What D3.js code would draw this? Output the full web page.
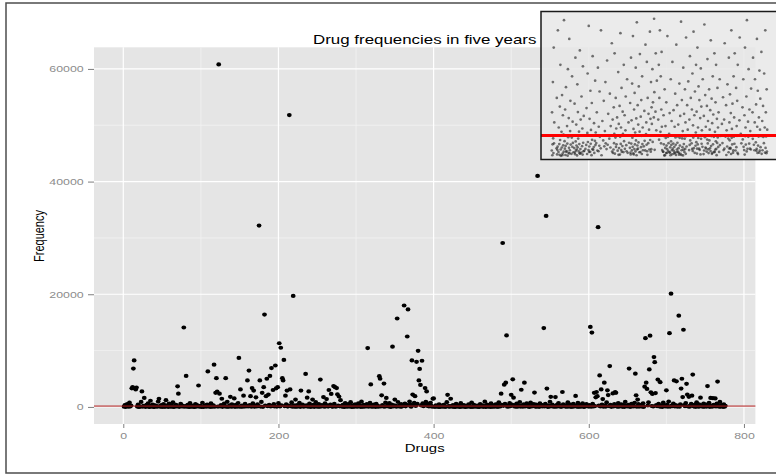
<!DOCTYPE html>
<html>
<head>
<meta charset="utf-8">
<script src="https://cdn.jsdelivr.net/npm/d3@7"></script>
<style>
  html, body { margin: 0; padding: 0; background: #fff; }
  svg { display: block; }
</style>
</head>
<body>
<svg id="chart" width="776" height="474"></svg>
<script>
// Five-year frequency of each drug; position i holds drug i + 1
const frequency = [
  45, 310, 12, 88, 520, 130, 27, 760, 95, 240, 3300, 3500, 6800, 8250, 3300, 3100, 3450, 60, 410, 18,
  50, 72, 880, 2750, 35, 205, 1600, 90, 15, 350, 118, 640, 52, 8, 1100, 175, 66, 430, 12, 24,
  290, 81, 156, 37, 950, 1450, 110, 58, 330, 14, 77, 485, 36, 41, 1200, 215, 93, 9, 610, 138,
  29, 270, 64, 820, 25, 47, 180, 390, 86, 3650, 2350, 22, 135, 560, 71, 245, 98, 14100, 33, 150,
  5500, 62, 370, 31, 19, 690, 108, 44, 225, 80, 52, 11, 505, 67, 312, 128, 3800, 39, 176, 90,
  26, 740, 23, 55, 260, 148, 31, 420, 6300, 75, 198, 17, 630, 99, 40, 285, 7500, 43, 2500, 5100,
  2700, 56, 60800, 2350, 84, 340, 1450, 21, 167, 580, 104, 5100, 48, 910, 35, 73, 265, 1800, 36, 460,
  92, 188, 1500, 13, 375, 119, 54, 700, 8700, 51, 3100, 69, 235, 28, 2000, 112, 530, 83, 170, 4700,
  97, 6450, 310, 1900, 45, 3350, 620, 2900, 40, 210, 1700, 78, 455, 140, 32200, 4700, 60, 880, 2500, 12,
  3500, 16400, 250, 1900, 5000, 115, 2200, 390, 5500, 74, 6900, 180, 3000, 520, 95, 7350, 3300, 55, 3500, 670,
  11300, 85, 10500, 300, 5100, 4700, 8350, 127, 2000, 440, 2900, 66, 215, 51800, 3100, 150, 790, 38, 19700, 260,
  28, 1300, 52, 345, 96, 160, 720, 23, 2900, 135, 410, 70, 198, 88, 5850, 275, 1650, 44, 2750, 590,
  15, 230, 62, 1300, 355, 17, 140, 860, 91, 205, 48, 480, 35, 4850, 76, 315, 160, 1750, 34, 640,
  110, 1400, 290, 57, 3000, 185, 420, 2300, 82, 40, 3700, 540, 3500, 29, 3350, 2250, 240, 1850, 99, 1200,
  150, 64, 375, 30, 18, 690, 93, 255, 46, 510, 134, 71, 840, 25, 195, 18, 330, 55, 445, 87,
  170, 39, 620, 115, 268, 12, 935, 52, 80, 360, 58, 225, 101, 490, 10450, 33, 176, 715, 4000, 34,
  280, 68, 395, 147, 21, 560, 90, 205, 47, 5450, 5000, 74, 2050, 320, 112, 4150, 46, 780, 1600, 159,
  240, 85, 660, 40, 15, 410, 10700, 96, 300, 1300, 190, 52, 15700, 870, 118, 265, 37, 520, 54, 345,
  230, 18000, 610, 105, 380, 12500, 17300, 275, 960, 450, 50, 8250, 2200, 315, 720, 1900, 185, 8000, 530, 9950,
  4700, 6750, 3900, 260, 8200, 640, 120, 410, 3350, 880, 2750, 175, 560, 95, 330, 730, 210, 48, 1450, 1500,
  38, 36, 290, 88, 145, 11, 470, 12, 63, 215, 132, 27, 380, 79, 28, 54, 840, 2150, 140, 41,
  96, 1450, 160, 33, 305, 30, 67, 12, 540, 109, 84, 250, 47, 19, 660, 58, 148, 93, 325, 42,
  25, 71, 210, 28, 440, 136, 85, 14, 780, 34, 52, 360, 99, 143, 37, 225, 61, 28, 16, 510,
  133, 79, 285, 22, 150, 940, 14, 47, 395, 129, 68, 180, 11, 620, 51, 90, 300, 35, 127, 470,
  56, 240, 22, 830, 145, 73, 2350, 360, 29100, 190, 3950, 525, 4300, 12700, 48, 260, 84, 700, 115, 2150,
  410, 4900, 1650, 95, 330, 56, 580, 42, 220, 135, 870, 61, 3050, 290, 29, 455, 4300, 78, 170, 640,
  103, 315, 24, 58, 760, 87, 205, 132, 490, 2550, 58, 395, 50, 41000, 270, 18, 615, 126, 350, 92,
  185, 14000, 71, 540, 33900, 3250, 20, 285, 45, 920, 1800, 137, 430, 66, 210, 59, 1750, 38, 355, 121,
  680, 94, 250, 53, 27, 2650, 470, 115, 190, 60, 325, 41, 810, 76, 145, 405, 22, 235, 28, 560,
  88, 295, 1950, 140, 36, 720, 34, 175, 51, 380, 109, 640, 57, 13, 265, 98, 480, 136, 205, 70,
  310, 14200, 35, 13200, 540, 83, 2500, 146, 1700, 2650, 1900, 31900, 230, 5600, 97, 3100, 415, 1400, 48, 4300,
  260, 58, 790, 2950, 2100, 142, 7250, 360, 14, 185, 2400, 73, 505, 2650, 2500, 128, 33, 690, 59, 240,
  116, 435, 64, 58, 305, 21, 880, 133, 195, 87, 370, 6800, 30, 46, 560, 141, 275, 92, 720, 5900,
  2050, 45, 1300, 480, 68, 215, 147, 390, 29, 640, 20, 3600, 12200, 4300, 3200, 255, 830, 6650, 12650, 2600,
  160, 2300, 95, 8850, 7950, 2450, 345, 122, 4850, 540, 71, 4400, 48, 290, 17, 760, 144, 205, 86, 2950,
  420, 39, 950, 13100, 57, 20100, 245, 140, 610, 4700, 93, 330, 4550, 58, 180, 16200, 52, 475, 3250, 5000,
  1750, 13700, 310, 126, 690, 4100, 2200, 85, 1800, 47, 240, 540, 2000, 5750, 102, 365, 44, 57, 820, 210,
  28, 460, 79, 1650, 142, 275, 31, 600, 44, 190, 405, 68, 3700, 145, 730, 22, 1600, 250, 47, 1550,
  355, 139, 1500, 96, 580, 4500, 205, 31, 880, 63, 310, 143, 26, 470, 38, 190
];
const drugIds = frequency.map((_, i) => i + 1);

// Axis breaks
const xTicks = [0, 200, 400, 600, 800];
const xMinor = [100, 300, 500, 700];
const yTicks = [0, 20000, 40000, 60000];
const yMinor = [10000, 30000, 50000];

// Reference level (red line) and the frequency window shown in the close-up
const referenceLevel = 150;
const closeUpRange = [0, 1000];

const titleText = "Drug frequencies in five years";
const xTitle = "Drugs";
const yTitle = "Frequency";

// ---- layout ----
const panel = { left: 94, right: 755.4, top: 47.3, bottom: 424 };
const inset = { left: 541, right: 778, top: 11.5, bottom: 159.5 };
const stretch = 1.3;  // wide glyphs
const font = "'Liberation Sans', Arial, Helvetica, sans-serif";

const data = drugIds.map((d, i) => ({ drug: d, freq: frequency[i] }));

const svg = d3.select("#chart");

// outer frame background
svg.append("rect")
  .attr("x", 6).attr("y", 3).attr("width", 772).attr("height", 470)
  .attr("fill", "#fff");

// ---- scales with 5% expansion, ggplot style ----
const xExt = d3.extent(drugIds);
const xPad = (xExt[1] - xExt[0]) * 0.05;
const x = d3.scaleLinear()
  .domain([xExt[0] - xPad, xExt[1] + xPad])
  .range([panel.left, panel.right]);

const yExt = d3.extent(frequency);
const yPad = (yExt[1] - yExt[0]) * 0.05;
const y = d3.scaleLinear()
  .domain([yExt[0] - yPad, yExt[1] + yPad])
  .range([panel.bottom, panel.top]);

// ---- panel ----
svg.append("rect")
  .attr("x", panel.left).attr("y", panel.top)
  .attr("width", panel.right - panel.left).attr("height", panel.bottom - panel.top)
  .attr("fill", "#e5e5e5");

const grid = svg.append("g");
grid.selectAll("line.yminor").data(yMinor).join("line")
  .attr("x1", panel.left).attr("x2", panel.right)
  .attr("y1", d => y(d)).attr("y2", d => y(d))
  .attr("stroke", "#f3f3f3").attr("stroke-width", 0.8);
grid.selectAll("line.xminor").data(xMinor).join("line")
  .attr("y1", panel.top).attr("y2", panel.bottom)
  .attr("x1", d => x(d)).attr("x2", d => x(d))
  .attr("stroke", "#f3f3f3").attr("stroke-width", 0.8);
grid.selectAll("line.ymajor").data(yTicks).join("line")
  .attr("x1", panel.left).attr("x2", panel.right)
  .attr("y1", d => y(d)).attr("y2", d => y(d))
  .attr("stroke", "#ffffff").attr("stroke-width", 1.2);
grid.selectAll("line.xmajor").data(xTicks).join("line")
  .attr("y1", panel.top).attr("y2", panel.bottom)
  .attr("x1", d => x(d)).attr("x2", d => x(d))
  .attr("stroke", "#ffffff").attr("stroke-width", 1.2);

// ---- points ----
svg.append("g").selectAll("ellipse").data(data).join("ellipse")
  .attr("cx", d => x(d.drug)).attr("cy", d => y(d.freq))
  .attr("rx", 2.4).attr("ry", 2.1)
  .attr("fill", "#000");

// reference line
svg.append("line")
  .attr("x1", panel.left).attr("x2", panel.right)
  .attr("y1", y(referenceLevel)).attr("y2", y(referenceLevel))
  .attr("stroke", "#b01c1c").attr("stroke-width", 1);

// ---- axes ----
const xAxis = svg.append("g")
  .attr("transform", `translate(0,${panel.bottom})`)
  .call(d3.axisBottom(x).tickValues(xTicks).tickSize(4).tickPadding(4.5).tickFormat(d3.format("d")));
const yAxis = svg.append("g")
  .attr("transform", `translate(${panel.left},0)`)
  .call(d3.axisLeft(y).tickValues(yTicks).tickSize(6).tickPadding(2).tickFormat(d3.format("d")));

[xAxis, yAxis].forEach(g => {
  g.select(".domain").remove();
  g.selectAll(".tick line").attr("stroke", "#7f7f7f").attr("stroke-width", 1);
  g.selectAll(".tick text")
    .attr("fill", "#8c8c8c")
    .style("font-family", font)
    .style("font-size", "9.5px")
    .attr("transform", `scale(${stretch},1)`);
});
xAxis.selectAll(".tick text").attr("x", 0);

// ---- titles ----
svg.append("text")
  .attr("transform", `translate(${(panel.left + panel.right) / 2},43.5) scale(${stretch},1)`)
  .attr("text-anchor", "middle")
  .style("font-family", font).style("font-size", "13px")
  .attr("fill", "#000")
  .text(titleText);

svg.append("text")
  .attr("transform", `translate(${(panel.left + panel.right) / 2},452) scale(${stretch},1)`)
  .attr("text-anchor", "middle")
  .style("font-family", font).style("font-size", "11.5px")
  .attr("fill", "#000")
  .text(xTitle);

svg.append("text")
  .attr("transform", `translate(43.5,236) scale(${stretch},1) rotate(-90)`)
  .attr("text-anchor", "middle")
  .style("font-family", font).style("font-size", "11px")
  .attr("fill", "#000")
  .text(yTitle);

// ---- close-up of the low-frequency band ----
const xi = d3.scaleLinear().domain(x.domain()).range([inset.left, inset.right]);
const yi = d3.scaleLinear().domain(closeUpRange).range([157, 13]);

svg.append("clipPath").attr("id", "insetClip")
  .append("rect")
  .attr("x", inset.left).attr("y", inset.top)
  .attr("width", inset.right - inset.left).attr("height", inset.bottom - inset.top);

const ins = svg.append("g");
ins.append("rect")
  .attr("x", inset.left).attr("y", inset.top)
  .attr("width", inset.right - inset.left).attr("height", inset.bottom - inset.top)
  .attr("fill", "#e7e7e7").attr("fill-opacity", 0.82);

ins.append("g").attr("clip-path", "url(#insetClip)")
  .selectAll("circle")
  .data(data.filter(d => d.freq >= closeUpRange[0] && d.freq <= closeUpRange[1]))
  .join("circle")
  .attr("cx", d => xi(d.drug)).attr("cy", d => yi(d.freq))
  .attr("r", 1.35)
  .attr("fill", "#222").attr("fill-opacity", 0.62);

ins.append("line")
  .attr("x1", inset.left).attr("x2", inset.right)
  .attr("y1", yi(referenceLevel)).attr("y2", yi(referenceLevel))
  .attr("stroke", "#ff0000").attr("stroke-width", 3);

ins.append("rect")
  .attr("x", inset.left).attr("y", inset.top)
  .attr("width", inset.right - inset.left).attr("height", inset.bottom - inset.top)
  .attr("fill", "none").attr("stroke", "#1a1a1a").attr("stroke-width", 1.5);

// outer frame
svg.append("rect")
  .attr("x", 6).attr("y", 3).attr("width", 772).attr("height", 470)
  .attr("fill", "none").attr("stroke", "#4d4d4d").attr("stroke-width", 1.5);
</script>
</body>
</html>
